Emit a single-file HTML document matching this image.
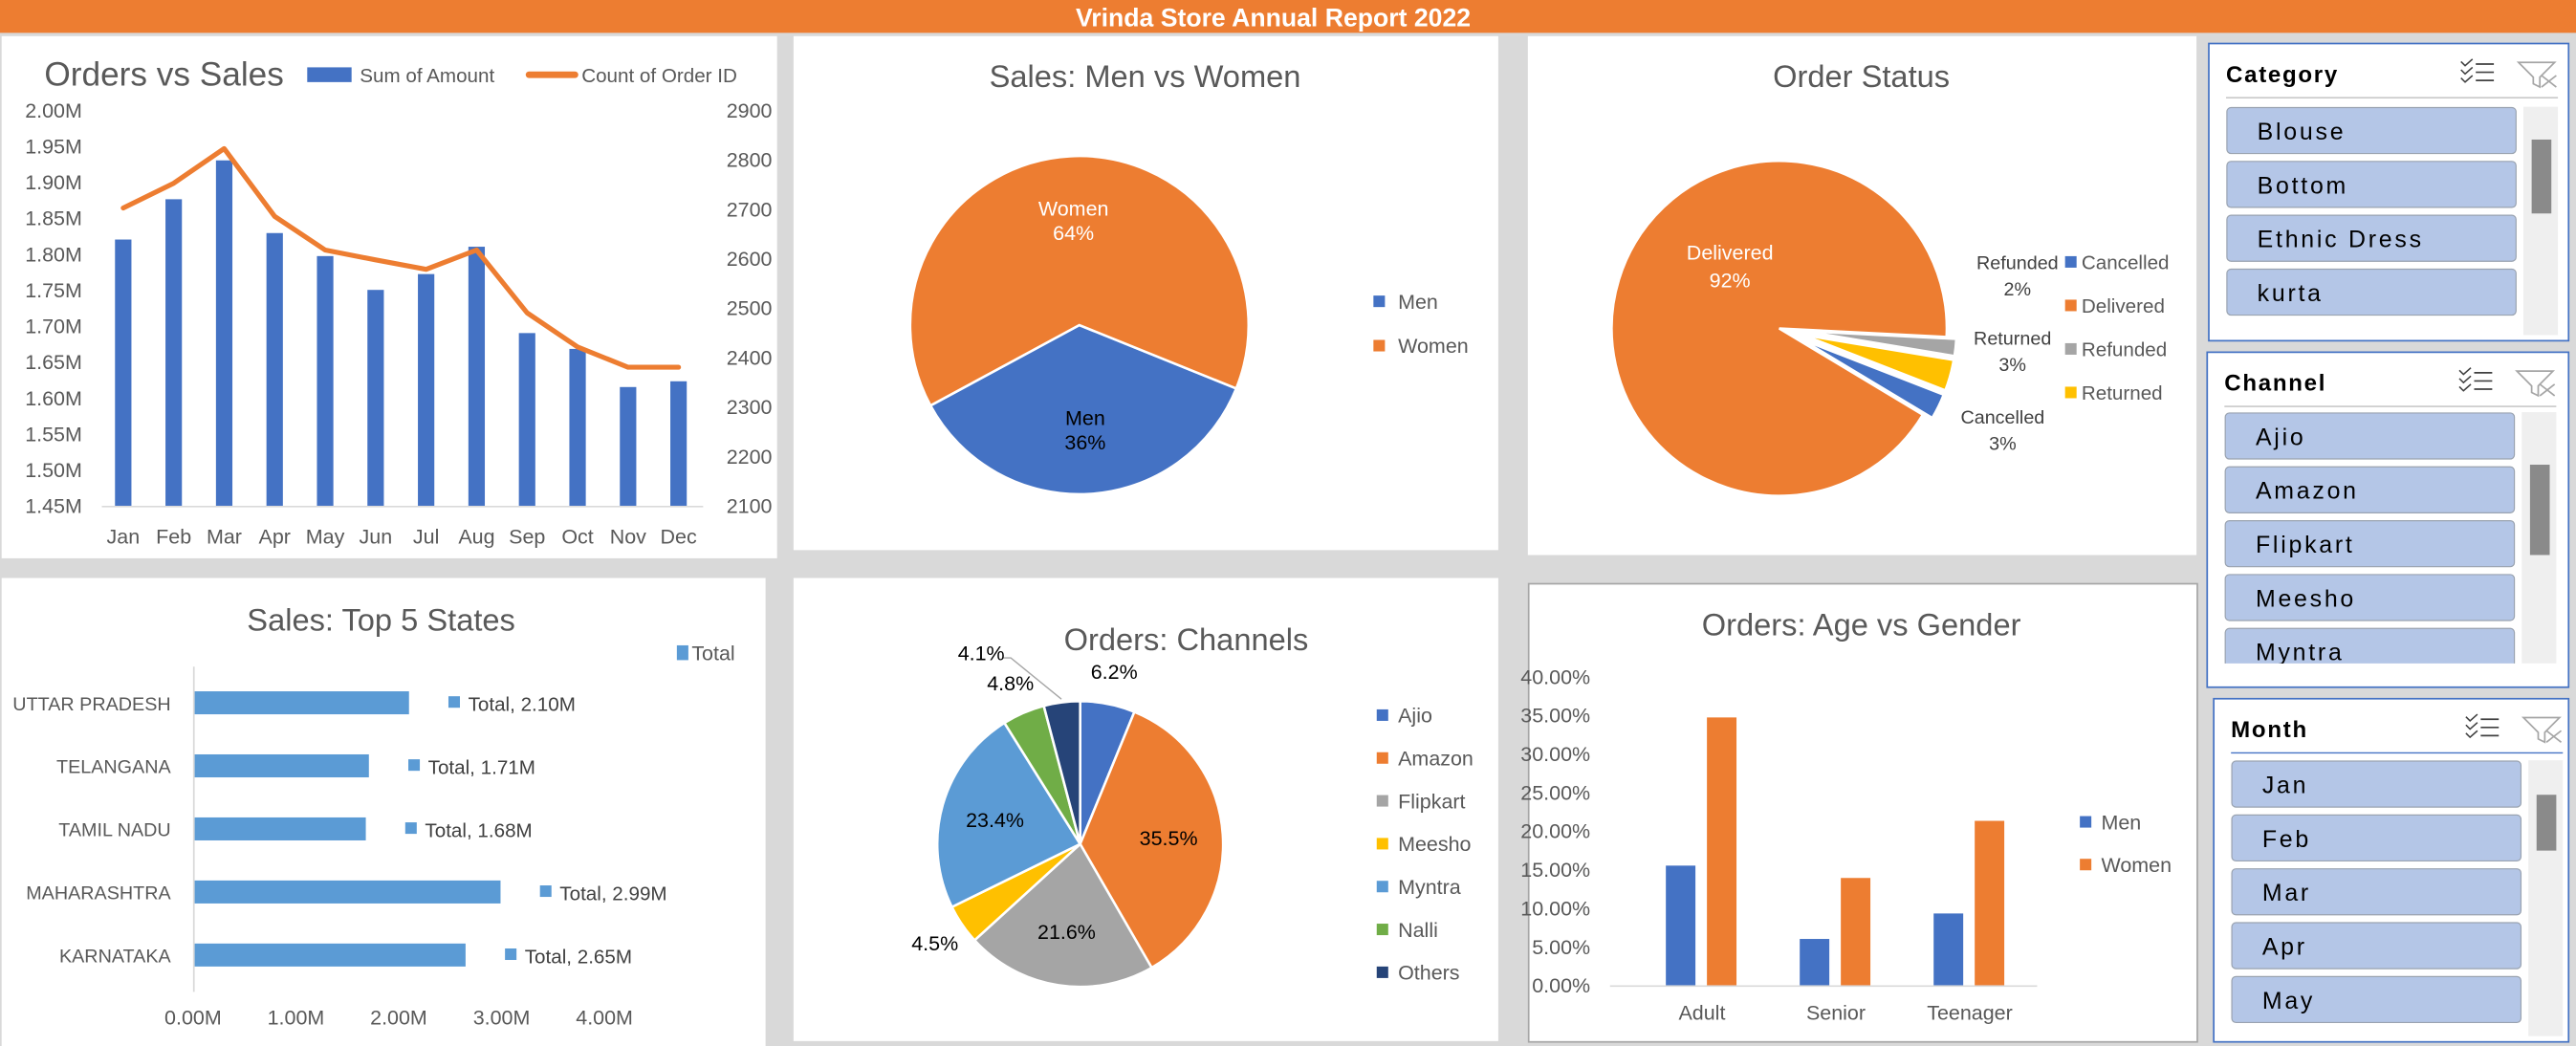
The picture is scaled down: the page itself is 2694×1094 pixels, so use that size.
<!DOCTYPE html>
<html><head><meta charset="utf-8"><title>Vrinda Store Annual Report 2022</title>
<style>
html,body{margin:0;padding:0;background:#d9d9d9;overflow:hidden}
svg{display:block}
text{font-family:"Liberation Sans",sans-serif}
</style></head>
<body>
<svg id="dash" xmlns="http://www.w3.org/2000/svg" width="2694" height="1094" viewBox="0 0 1568 637" preserveAspectRatio="none">
<rect x="0" y="0" width="1568" height="637" fill="#d9d9d9"/>
<rect x="0" y="0" width="1568" height="20" fill="#ED7D31"/>
<text x="775" y="16" text-anchor="middle" fill="#fff" font-size="15.5" font-weight="bold">Vrinda Store Annual Report 2022</text>

<rect x="1" y="22" width="472" height="318" fill="#fff"/>
<rect x="483" y="22" width="429" height="313" fill="#fff"/>
<rect x="930" y="22" width="407" height="316" fill="#fff"/>
<rect x="1" y="352" width="465" height="285" fill="#fff"/>
<rect x="483" y="352" width="429" height="282" fill="#fff"/>
<rect x="930.5" y="355.5" width="407" height="279" fill="#fff" stroke="#a6a6a6" stroke-width="1"/>

<g id="c1"></g>
<g id="c2"></g>
<g id="c3"></g>
<g id="c4"></g>
<g id="c5"></g>
<g id="c6"></g>
<g id="slicers"></g>
</svg>
<script>
// ---------- data ----------
const months = ["Jan","Feb","Mar","Apr","May","Jun","Jul","Aug","Sep","Oct","Nov","Dec"];
const salesM = [1.82,1.876,1.93,1.829,1.797,1.75,1.772,1.81,1.69,1.668,1.615,1.623];
const orderCount = [2702,2752,2822,2685,2617,2597,2578,2617,2490,2421,2380,2380];
const leftTicks = ["2.00M","1.95M","1.90M","1.85M","1.80M","1.75M","1.70M","1.65M","1.60M","1.55M","1.50M","1.45M"];
const leftTickVals = [2.00,1.95,1.90,1.85,1.80,1.75,1.70,1.65,1.60,1.55,1.50,1.45];
const rightTickVals = [2900,2800,2700,2600,2500,2400,2300,2200,2100];

const genderLabels = ["Men","Women"];
const genderPct = [36,64];

const statusLabels = ["Cancelled","Delivered","Refunded","Returned"];
const statusPct = [2.7,92.2,1.8,3.3];

const states = ["UTTAR PRADESH","TELANGANA","TAMIL NADU","MAHARASHTRA","KARNATAKA"];
const stateSales = [2.10,1.71,1.68,2.99,2.65];
const stateTicks = [0,1,2,3,4];

const channels = ["Ajio","Amazon","Flipkart","Meesho","Myntra","Nalli","Others"];
const channelPct = [6.2,35.5,21.6,4.5,23.4,4.8,4.1];

const ageGroups = ["Adult","Senior","Teenager"];
const menPct = [15.5,6.0,9.3];
const womenPct = [34.7,13.9,21.3];
const ageTicks = [40,35,30,25,20,15,10,5,0];

const categories = ["Blouse","Bottom","Ethnic Dress","kurta"];
const channelItems = ["Ajio","Amazon","Flipkart","Meesho","Myntra"];
const monthItems = ["Jan","Feb","Mar","Apr","May"];

// ---------- helpers ----------
const NS="http://www.w3.org/2000/svg";
function el(parent,tag,attrs,txt){const e=document.createElementNS(NS,tag);for(const k in attrs)e.setAttribute(k,attrs[k]);if(txt!==undefined)e.textContent=txt;parent.appendChild(e);return e;}
function pt(cx,cy,r,a){const t=(a-90)*Math.PI/180;return [cx+r*Math.cos(t),cy+r*Math.sin(t)];}
function arc(cx,cy,r,a0,a1){const p0=pt(cx,cy,r,a0),p1=pt(cx,cy,r,a1);const large=(a1-a0)>180?1:0;return `M${cx},${cy}L${p0[0]},${p0[1]}A${r},${r} 0 ${large} 1 ${p1[0]},${p1[1]}Z`;}
const GREY="#595959";

// ---------- chart 1 ----------
(function(){
 const g=document.getElementById('c1');
 const x0=62,x1=428,yB=308,yT=67;
 const yL=v=>yB-(v-1.45)/0.55*(yB-yT);
 const yR=v=>yB-(v-2100)/800*(yB-yT);
 const xC=i=>75+i*30.73;
 let t=el(g,'text',{x:27,y:52,'font-size':20.5,fill:GREY},'Orders vs Sales');
 
 let r=el(g,'rect',{x:187,y:41,width:27,height:9,fill:'#4472C4'});
 
 el(g,'text',{x:219,y:50,'font-size':12,fill:GREY},'Sum of Amount');
 let l=el(g,'line',{x1:322,y1:45.5,x2:350,y2:45.5,stroke:'#ED7D31','stroke-width':4,'stroke-linecap':'round'});
 
 el(g,'text',{x:354,y:50,'font-size':12,fill:GREY},'Count of Order ID');
 leftTickVals.forEach((v,i)=>{const e=el(g,'text',{x:50,y:yL(v)+4.5,'font-size':12.5,fill:GREY,'text-anchor':'end'},leftTicks[i]);
  });
 rightTickVals.forEach(v=>{const e=el(g,'text',{x:470,y:yR(v)+4.5,'font-size':12.5,fill:GREY,'text-anchor':'end'},String(v));
  });
 el(g,'line',{x1:x0,y1:yB+0.5,x2:x1,y2:yB+0.5,stroke:'#d9d9d9','stroke-width':1});
 salesM.forEach((v,i)=>{const b=el(g,'rect',{x:xC(i)-5,y:yL(v),width:10,height:yB-yL(v),fill:'#4472C4'});
  });
 months.forEach((m,i)=>{const e=el(g,'text',{x:xC(i),y:331,'font-size':12.5,fill:GREY,'text-anchor':'middle'},m);
  });
 const pts=orderCount.map((v,i)=>xC(i)+','+yR(v)).join(' ');
 const pl=el(g,'polyline',{points:pts,fill:'none',stroke:'#ED7D31','stroke-width':3,'stroke-linejoin':'round','stroke-linecap':'round'});
 
})();

// ---------- chart 2 ----------
(function(){
 const g=document.getElementById('c2');
 const cx=657,cy=198,R=103,start=112;
 let t=el(g,'text',{x:697,y:53,'font-size':19,fill:GREY,'text-anchor':'middle'},'Sales: Men vs Women');
 
 const cols=['#4472C4','#ED7D31'];
 let a=start;const tot=genderPct.reduce((s,v)=>s+v,0);
 genderPct.forEach((v,i)=>{const span=v/tot*360;const p=el(g,'path',{d:arc(cx,cy,R,a,a+span),fill:cols[i],stroke:'#fff','stroke-width':1.5});
  
  const m=pt(cx,cy,R*0.62,a+span/2);const fc=i===1?'#fff':'#000';
  el(g,'text',{x:m[0],y:m[1]-3,'font-size':12.5,fill:fc,'text-anchor':'middle'},genderLabels[i]);
  el(g,'text',{x:m[0],y:m[1]+12,'font-size':12.5,fill:fc,'text-anchor':'middle'},Math.round(v)+'%');
  a+=span;});
 genderLabels.forEach((n,i)=>{const y=184+i*27;el(g,'rect',{x:836,y:y-4,width:7,height:7,fill:cols[i]});
  const e=el(g,'text',{x:851,y:y+4,'font-size':12.5,fill:GREY},n);});
})();

// ---------- chart 3 ----------
(function(){
 const g=document.getElementById('c3');
 const cx=1083,cy=200,R=102,start=111.3;
 let t=el(g,'text',{x:1133,y:53,'font-size':19,fill:GREY,'text-anchor':'middle'},'Order Status');
 
 const cols=['#4472C4','#ED7D31','#A5A5A5','#FFC000'];
 const tot=statusPct.reduce((s,v)=>s+v,0);
 let a=start;
 statusPct.forEach((v,i)=>{const span=v/tot*360;let ccx=cx,ccy=cy,r=R;
  if(i!==1){const o=pt(0,0,15,a+span/2);ccx=cx+o[0];ccy=cy+o[1];r=93;}
  const p=el(g,'path',{d:arc(ccx,ccy,r,a,a+span),fill:cols[i],stroke:'#fff','stroke-width':1.5});
  
  a+=span;});
 el(g,'text',{x:1053,y:158,'font-size':12.5,fill:'#fff','text-anchor':'middle'},'Delivered');
 el(g,'text',{x:1053,y:175,'font-size':12.5,fill:'#fff','text-anchor':'middle'},Math.round(statusPct[1])+'%');
 const lab=[[2,1228,164],[3,1225,210],[0,1219,258]];
 lab.forEach(([i,x,y])=>{el(g,'text',{x:x,y:y,'font-size':11.5,fill:'#404040','text-anchor':'middle'},statusLabels[i]);
  el(g,'text',{x:x,y:y+16,'font-size':11.5,fill:'#404040','text-anchor':'middle'},Math.round(statusPct[i])+'%');});
 statusLabels.forEach((n,i)=>{const y=160+i*26.5;el(g,'rect',{x:1257,y:y-4,width:7,height:7,fill:cols[i]});
  const e=el(g,'text',{x:1267,y:y+4,'font-size':12,fill:GREY},n);});
})();

// ---------- chart 4 ----------
(function(){
 const g=document.getElementById('c4');
 const x0=117.5,k=62.6,y0=428,dy=38.4,bh=14;
 const xS=v=>x0+v*k;
 let t=el(g,'text',{x:232,y:384,'font-size':19,fill:GREY,'text-anchor':'middle'},'Sales: Top 5 States');
 
 el(g,'rect',{x:412,y:393,width:7,height:9,fill:'#5B9BD5'});
 el(g,'text',{x:421,y:402,'font-size':12.5,fill:GREY},'Total');
 el(g,'line',{x1:x0+0.5,y1:406,x2:x0+0.5,y2:604,stroke:'#d9d9d9','stroke-width':1});
 states.forEach((s,i)=>{const y=y0+i*dy;
  const e=el(g,'text',{x:104,y:y+4.5,'font-size':11.5,fill:GREY,'text-anchor':'end'},s);
  const b=el(g,'rect',{x:x0+1,y:y-bh/2,width:xS(stateSales[i])-x0-1,height:bh,fill:'#5B9BD5'});
  
  const xe=xS(stateSales[i]);
  el(g,'rect',{x:xe+24,y:y-4,width:7,height:7,fill:'#5B9BD5'});
  el(g,'text',{x:xe+36,y:y+5,'font-size':12,fill:'#404040'},'Total, '+stateSales[i].toFixed(2)+'M');});
 stateTicks.forEach(v=>{const e=el(g,'text',{x:xS(v),y:624,'font-size':12.5,fill:GREY,'text-anchor':'middle'},v.toFixed(2)+'M');
  });
})();

// ---------- chart 5 ----------
(function(){
 const g=document.getElementById('c5');
 const cx=657.5,cy=514,R=87;
 let t=el(g,'text',{x:722,y:396,'font-size':19,fill:GREY,'text-anchor':'middle'},'Orders: Channels');
 
 const cols=['#4472C4','#ED7D31','#A5A5A5','#FFC000','#5B9BD5','#70AD47','#264478'];
 const tot=channelPct.reduce((s,v)=>s+v,0);
 let a=0;
 channelPct.forEach((v,i)=>{const span=v/tot*360;
  const p=el(g,'path',{d:arc(cx,cy,R,a,a+span),fill:cols[i],stroke:'#fff','stroke-width':1.5});
  
  const mid=a+span/2;let m;
  if(i===channels.length-1){m=pt(cx,cy,R+44,mid-20);const q=pt(cx,cy,R+2,mid);
    el(g,'polyline',{points:`${q[0]},${q[1]} ${m[0]+18},${m[1]+3} ${m[0]+13},${m[1]+3}`,fill:'none',stroke:'#a6a6a6','stroke-width':0.8});}
  else if(v<7){m=pt(cx,cy,R+20,mid);} else {m=pt(cx,cy,R*0.62,mid);}
  el(g,'text',{x:m[0],y:m[1]+4.5,'font-size':12.5,fill:'#000','text-anchor':'middle'},v.toFixed(1)+'%');
  a+=span;});
 channels.forEach((n,i)=>{const y=436+i*26.1;el(g,'rect',{x:838,y:y-4,width:7,height:7,fill:cols[i]});
  const e=el(g,'text',{x:851,y:y+4,'font-size':12.5,fill:GREY},n);});
})();

// ---------- chart 6 ----------
(function(){
 const g=document.getElementById('c6');
 const yB=600,yT=412,x0=980,x1=1240;
 const y=v=>yB-v/40*(yB-yT);
 const gx=i=>1036+i*81.5;
 let t=el(g,'text',{x:1133,y:387,'font-size':19,fill:GREY,'text-anchor':'middle'},'Orders: Age vs Gender');
 
 ageTicks.forEach(v=>{const e=el(g,'text',{x:968,y:y(v)+4.5,'font-size':12.5,fill:GREY,'text-anchor':'end'},v.toFixed(2)+'%');
  });
 el(g,'line',{x1:x0,y1:yB+0.5,x2:x1,y2:yB+0.5,stroke:'#d9d9d9','stroke-width':1});
 ageGroups.forEach((n,i)=>{
  const b1=el(g,'rect',{x:gx(i)-22,y:y(menPct[i]),width:18,height:yB-y(menPct[i]),fill:'#4472C4'});
  
  const b2=el(g,'rect',{x:gx(i)+3,y:y(womenPct[i]),width:18,height:yB-y(womenPct[i]),fill:'#ED7D31'});
  
  const e=el(g,'text',{x:gx(i),y:621,'font-size':12.5,fill:GREY,'text-anchor':'middle'},n);});
 const lc=['#4472C4','#ED7D31'];
 ["Men","Women"].forEach((n,i)=>{const yy=501+i*26;el(g,'rect',{x:1266,y:yy-4,width:7,height:7,fill:lc[i]});
  const e=el(g,'text',{x:1279,y:yy+4,'font-size':12.5,fill:GREY},n);});
})();

// ---------- slicers ----------
(function(){
 const g=document.getElementById('slicers');
 const defs=el(g,'defs',{});
 const specs=[
  {name:'category',title:'Category',box:[1344,26,220,182],items:categories,top:65,thumb:[85,130]},
  {name:'channel',title:'Channel',box:[1343,214,221,205],items:channelItems,top:251,thumb:[283,338]},
  {name:'month',title:'Month',box:[1347,425,217,210],items:monthItems,top:463,thumb:[484,518]}];
 specs.forEach((s,si)=>{
  const [bx,by,bw,bh]=s.box;
  const grp=el(g,'g',{});
  
  el(grp,'rect',{x:bx+0.5,y:by+0.5,width:bw-1,height:bh-1,fill:'#fff',stroke:'#4472C4','stroke-width':1});
  const tt=el(grp,'text',{x:bx+11,y:by+24,'font-size':14,'font-weight':'bold',fill:'#000','letter-spacing':'1'},s.title);
  
  el(grp,'line',{x1:bx+11,y1:by+33.5,x2:bx+213,y2:by+33.5,stroke:si===2?'#4472C4':'#bfbfbf','stroke-width':0.8});
  const ms=el(grp,'g',{});
  
  for(let k=0;k<3;k++){const yy=by+13+k*5;
   el(ms,'polyline',{points:`${bx+154},${yy-1.5} ${bx+156.5},${yy+1} ${bx+161},${yy-3}`,fill:'none',stroke:'#404040','stroke-width':0.9});
   el(ms,'line',{x1:bx+163,y1:yy,x2:bx+174,y2:yy,stroke:'#404040','stroke-width':1});}
  const cf=el(grp,'g',{});
  
  el(cf,'path',{d:`M${bx+189},${by+12} L${bx+211},${by+12} L${bx+202},${by+21} L${bx+202},${by+27} L${bx+198},${by+25} L${bx+198},${by+21} Z`,fill:'none',stroke:'#a6a6a6','stroke-width':1});
  el(cf,'line',{x1:bx+203,y1:by+20,x2:bx+212,y2:by+27,stroke:'#a6a6a6','stroke-width':1});
  el(cf,'line',{x1:bx+212,y1:by+20,x2:bx+203,y2:by+27,stroke:'#a6a6a6','stroke-width':1});
  const listBottom=by+bh-(si===1?15:4);
  const cp=el(defs,'clipPath',{id:'clip'+si});
  el(cp,'rect',{x:bx,y:s.top-2,width:bw,height:listBottom-s.top+2});
  const lg=el(grp,'g',{'clip-path':'url(#clip'+si+')'});
  s.items.forEach((it,i)=>{const y=s.top+i*32.8;
   const r=el(lg,'rect',{x:bx+11.5,y:y+0.5,width:176,height:28,rx:2.5,fill:'#B4C6E7',stroke:'#9aa3b0','stroke-width':0.7});
   
   el(lg,'text',{x:bx+30,y:y+20,'font-size':14.5,fill:'#000','letter-spacing':'1.6'},it);});
  const sb=el(grp,'rect',{x:bx+192,y:s.top,width:21,height:listBottom-s.top,fill:'#efefef'});
  
  const th=el(grp,'rect',{x:bx+197,y:s.thumb[0],width:12,height:s.thumb[1]-s.thumb[0],fill:'#8a8a8a'});
  
 });
})();
</script>
</body></html>
